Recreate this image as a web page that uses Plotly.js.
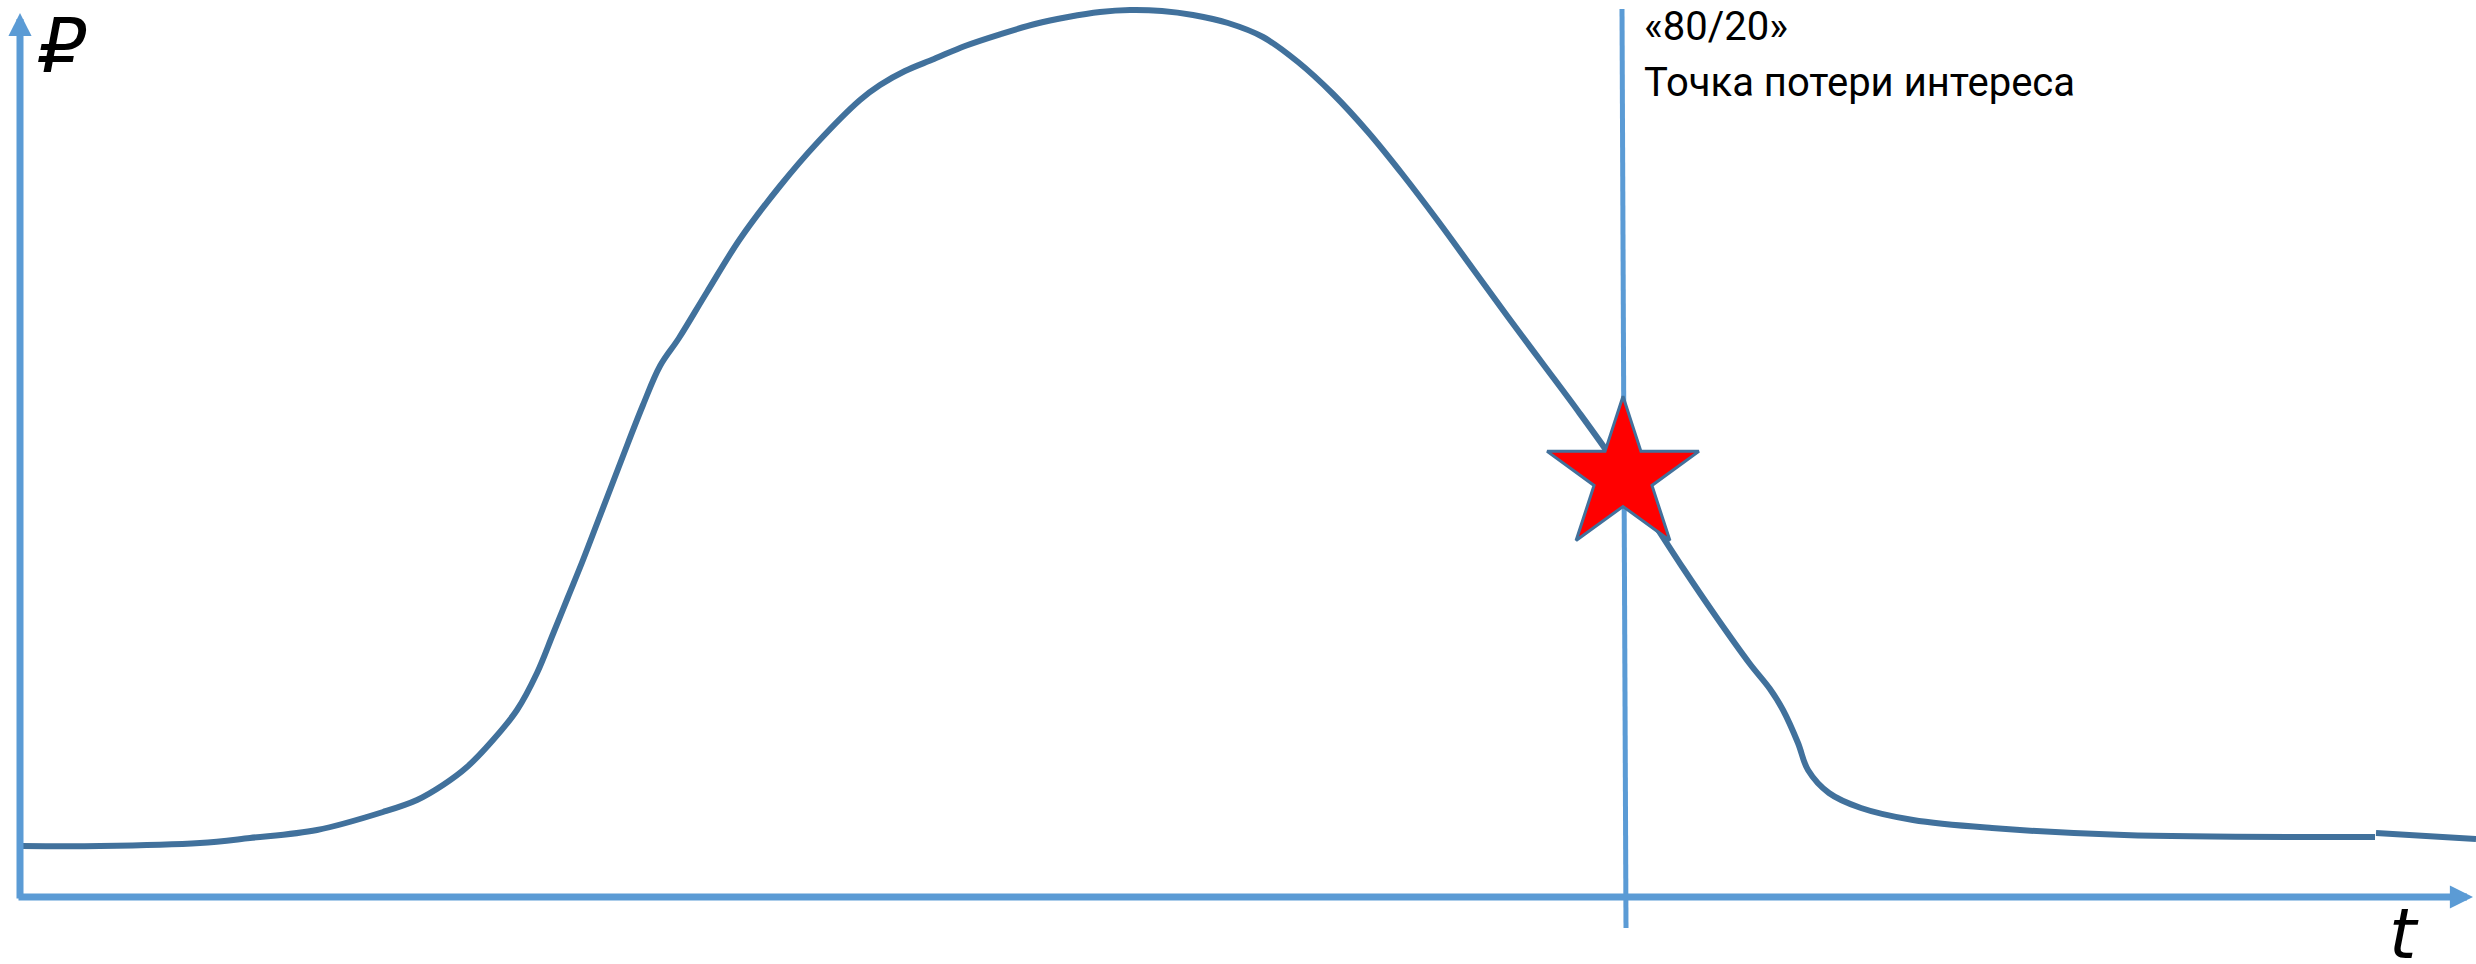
<!DOCTYPE html>
<html>
<head>
<meta charset="utf-8">
<script src="https://cdn.plot.ly/plotly-3.0.1.min.js"></script>
<style>
  html, body { margin: 0; padding: 0; background: #fff; }
  #chart { width: 2476px; height: 964px; }
</style>
</head>
<body>
<div id="chart"></div>
<script>
//Revenue over time (the original has no units, so these are arbitrary)
const timeT = [22, 100, 200, 250, 317, 383, 417, 443, 467, 493, 517, 537, 553, 568,
  583, 598, 613, 628, 643, 660, 679, 707, 740, 780, 817, 860, 880, 905, 934, 965,
  1001, 1035, 1068, 1100, 1130, 1162, 1193, 1228, 1263, 1298, 1333, 1368, 1403,
  1438, 1473, 1508, 1543, 1578, 1613, 1648, 1683, 1717, 1750, 1770, 1783, 1798,
  1808, 1829, 1861, 1913, 1992, 2124, 2375];
const revenue = [51, 51, 54, 59, 67, 85, 97, 112, 130, 157, 187, 224, 263, 300,
  337, 376, 415, 454, 492, 531, 559, 605, 658, 711, 754, 797, 812, 826, 838, 851,
  863, 873, 880, 885, 887, 886, 882, 874, 860, 835, 803, 765, 722,
  676, 628, 580, 533, 486, 437, 383, 329, 279, 233, 208, 187, 154,
  127, 104, 89, 77, 69, 62, 60];

//small tail piece at the right end
const tailT = [2376, 2476];
const tailRevenue = [64, 58];

//80/20 point: vertical line + star
const lossLineT = [1622, 1626];
const lossLineR = [888, -31];
const starT = [1623];
const starR = [421];

const labelTop = "«80/20»";
const labelBottom = "Точка потери интереса";
const yLabel = "₽";
const xLabel = "t";

const axisBlue = "#5B9BD5";
const curveBlue = "#41719C";

function makeChart() {
  const traces = [
    {
      type: "scatter", mode: "lines",
      x: lossLineT, y: lossLineR,
      line: {color: axisBlue, width: 5},
      hoverinfo: "skip"
    },
    {
      type: "scatter", mode: "lines",
      x: timeT, y: revenue,
      line: {color: curveBlue, width: 6, shape: "spline", smoothing: 1},
      hoverinfo: "skip"
    },
    {
      type: "scatter", mode: "lines",
      x: tailT, y: tailRevenue,
      line: {color: curveBlue, width: 6},
      hoverinfo: "skip"
    },
    {
      type: "scatter", mode: "markers",
      x: starT, y: starR,
      marker: {symbol: "star", size: 114, color: "#FF0000",
               line: {color: curveBlue, width: 3}},
      hoverinfo: "skip"
    }
  ];

  const axisArrow = (x, y, ax, ay) => ({
    x: x, y: y, ax: ax, ay: ay,
    xref: "x", yref: "y", axref: "x", ayref: "y",
    text: "", showarrow: true,
    arrowhead: 2, arrowsize: 0.66, arrowwidth: 7,
    arrowcolor: axisBlue, standoff: 0
  });

  const textFont = {family: "Roboto, 'Noto Sans', sans-serif", size: 40, color: "#000"};
  const symbolFont = {family: "'DejaVu Sans', 'Noto Sans', sans-serif", color: "#000"};

  const layout = {
    width: 2476, height: 964,
    margin: {l: 0, r: 0, t: 0, b: 0},
    paper_bgcolor: "#fff", plot_bgcolor: "#fff",
    showlegend: false,
    xaxis: {range: [0, 2476], visible: false, fixedrange: true},
    yaxis: {range: [-67, 897], visible: false, fixedrange: true},
    annotations: [
      axisArrow(20, 884, 20, -3),
      axisArrow(2473, 0, 17, 0),
      {
        x: 1642, y: 871, xref: "x", yref: "y",
        xanchor: "left", yanchor: "middle",
        text: labelTop, showarrow: false, font: textFont
      },
      {
        x: 1642, y: 815, xref: "x", yref: "y",
        xanchor: "left", yanchor: "middle",
        text: labelBottom, showarrow: false, font: textFont
      },
      {
        x: 63, y: 851, xref: "x", yref: "y",
        xanchor: "center", yanchor: "middle",
        text: "<i>" + yLabel + "</i>", showarrow: false,
        font: Object.assign({size: 74}, symbolFont)
      },
      {
        x: 2404, y: -37, xref: "x", yref: "y",
        xanchor: "center", yanchor: "middle",
        text: "<i>" + xLabel + "</i>", showarrow: false,
        font: Object.assign({size: 70}, symbolFont)
      }
    ]
  };

  Plotly.newPlot("chart", traces, layout, {displayModeBar: false, staticPlot: true});
}

document.addEventListener("DOMContentLoaded", makeChart);
</script>
</body>
</html>
